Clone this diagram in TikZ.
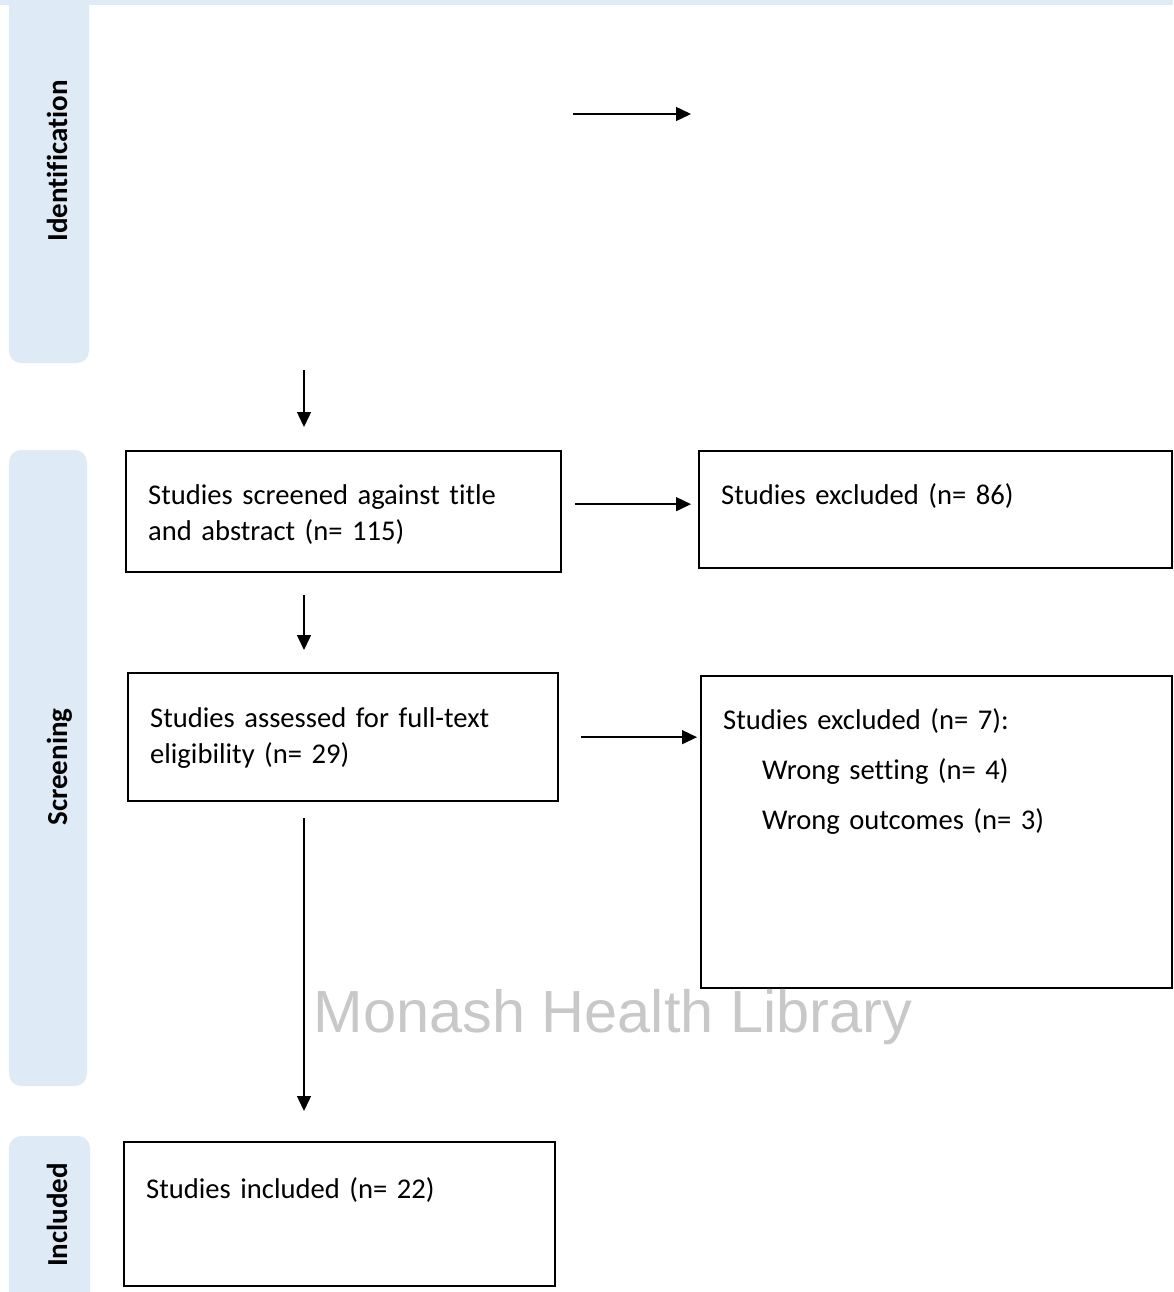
\documentclass[tikz,border=0pt]{standalone}
\usepackage{fontspec}
\setmainfont{Carlito}[Ligatures=NoCommon]
\newfontfamily\markfont{Liberation Sans}
\usepackage{tikz}
\usetikzlibrary{arrows.meta, calc}

\definecolor{barblue}{RGB}{222,234,246}
\definecolor{markgray}{RGB}{200,200,200}

\begin{document}
\begin{tikzpicture}[x=1pt, y=-1pt,
    box/.style={draw=black, line width=2.3pt, anchor=north west, inner xsep=22pt, inner ysep=0pt, align=left, font=\fontsize{28.6}{36}\selectfont},
    phase/.style={rotate=90, anchor=base, font=\fontsize{29}{36}\selectfont\bfseries},
    bar/.style={fill=barblue, rounded corners=12pt},
    arr/.style={-{Triangle[length=15pt, width=14pt]}, line width=1.4pt}]
    \useasboundingbox (0,0) rectangle (1173,1292);

    % phase bars
    \fill[barblue] (0,0) rectangle (1173,5);
    \fill[bar] (9,-40) rectangle (89,363);
    \fill[bar] (9,450) rectangle (87,1086);
    \fill[bar] (9,1136) rectangle (90,1320);
    \node[phase] (idlab)  at (67,161)  {Identification};
    \node[phase] (scrlab) at (67,767)  {Screening};
    \node[phase] (inclab) at (67,1215) {Included};

    % boxes
    \node[box, text width=391pt, text height=53pt, text depth=68pt] (scr) at (125,450) {Studies screened against title\\and abstract (n= 115)};
    \node[box, text width=429pt, text height=53pt, text depth=64pt] (exa) at (698,450) {Studies excluded (n= 86)};
    \node[box, text width=386pt, text height=54pt, text depth=74pt] (ass) at (127,672) {Studies assessed for full-text\\eligibility (n= 29)};
    \node[box, text width=427pt, text height=53pt, text depth=259pt] (exb) at (700,675) {Studies excluded (n= 7):\\[14pt]\hspace*{39pt}Wrong setting (n= 4)\\[14pt]\hspace*{39pt}Wrong outcomes (n= 3)};
    \node[box, text width=387pt, text height=56pt, text depth=88pt] (inc) at (123,1141) {Studies included (n= 22)};

    \node[font=\markfont\fontsize{59.5}{70}\selectfont, text=markgray, anchor=base] (mark) at (613,1032) {Monash Health Library};

    % arrows
    \coordinate (spine) at (304,0);
    \coordinate (idend) at (304,370);
    \coordinate (topl) at (573,114);
    \coordinate (topr) at (691,114);
    \draw[arr] (topl) -- (topr);
    \draw[arr, shorten >=23pt] (idend) -- (scr.north -| spine);
    \draw[arr, shorten <=22pt, shorten >=22pt] (scr.south -| spine) -- (ass.north -| spine);
    \draw[arr, shorten <=16pt, shorten >=30pt] (ass.south -| spine) -- (inc.north -| spine);
    \draw[arr, shorten <=13pt, shorten >=7pt] (scr.base east) -- (exa.base west);
    \draw[arr, shorten <=22pt, shorten >=3pt] (ass.east) -- (ass.east -| exb.west);
\end{tikzpicture}
\end{document}
